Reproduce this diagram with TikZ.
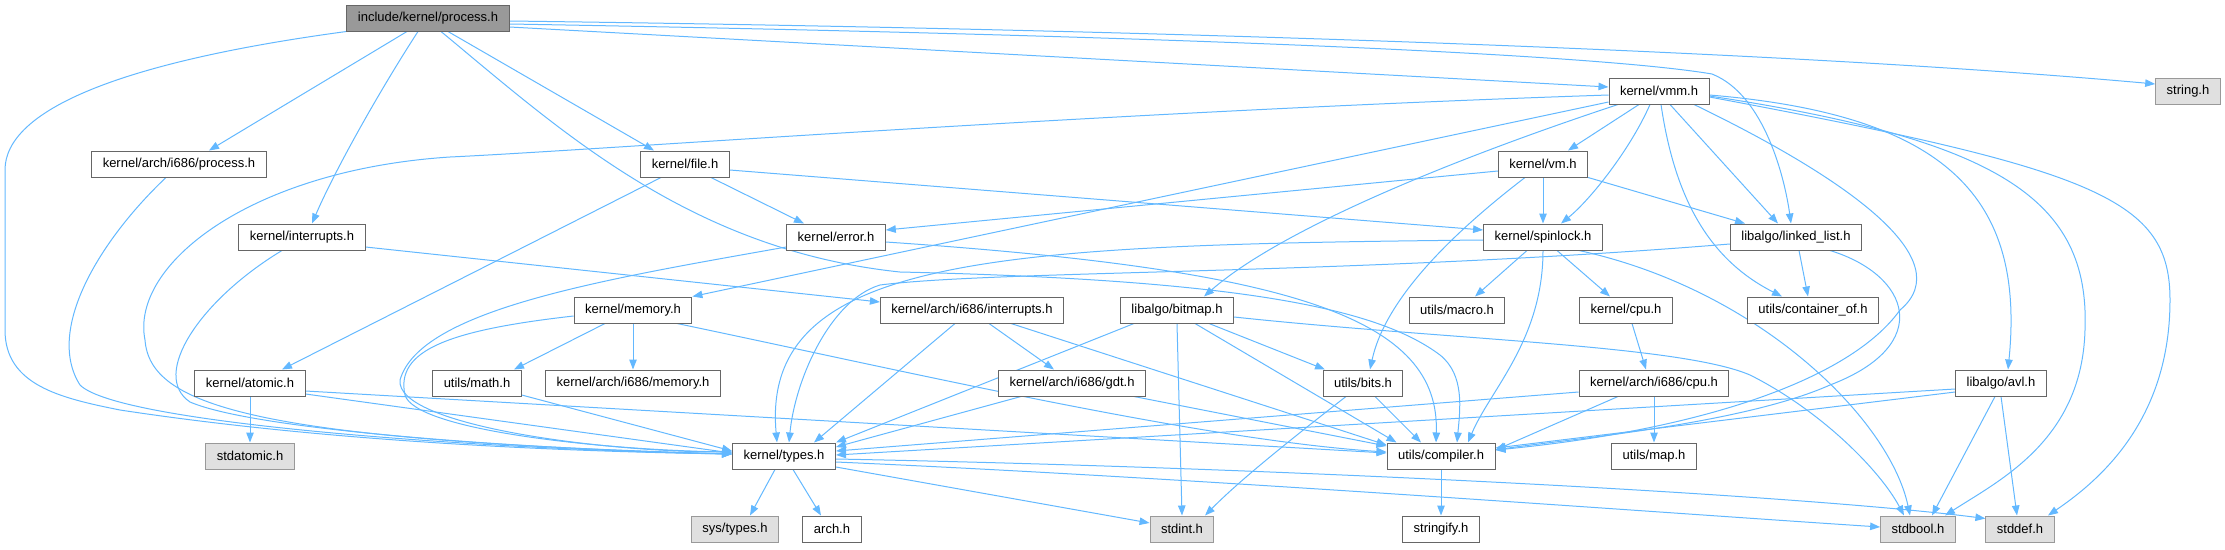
\documentclass[tikz,border=0pt]{standalone}
\usepackage{fontspec}
\setmainfont{Liberation Sans}
\usetikzlibrary{arrows.meta,backgrounds}
\definecolor{edgeblue}{HTML}{63B8FF}
\definecolor{boxline}{HTML}{666666}
\definecolor{sysline}{HTML}{999999}
\definecolor{sysfill}{HTML}{E0E0E0}
\definecolor{rootfill}{HTML}{999999}

\begin{document}
\begin{tikzpicture}[x=1pt, y=-1pt,
    hdr/.style={draw=boxline, fill=white, line width=1pt, minimum height=26pt,
      inner xsep=11pt, inner ysep=0pt, font=\fontsize{13}{15}\selectfont},
    syshdr/.style={hdr, draw=sysline, fill=sysfill},
    roothdr/.style={hdr, fill=rootfill},
    dep/.style={draw=edgeblue, line width=1pt, -{Triangle[length=10pt,width=7.5pt]}}]
  \useasboundingbox (0,0) rectangle (2225,549);
  % rows at 18, 91, 164, 237, 310, 383, 456, 529
  \node[roothdr] (proc) at (428,18) {include/kernel/process.h};
  \node[hdr] (vmm) at (1659,91) {kernel/vmm.h};
  \node[syshdr] (strh) at (2188,91) {string.h};
  \node[hdr] (aproc) at (179,164) {kernel/arch/i686/process.h};
  \node[hdr] (file) at (685,164) {kernel/file.h};
  \node[hdr] (vm) at (1543,164) {kernel/vm.h};
  \node[hdr] (intr) at (302,237) {kernel/interrupts.h};
  \node[hdr] (err) at (836,237) {kernel/error.h};
  \node[hdr] (spin) at (1543,237) {kernel/spinlock.h};
  \node[hdr] (llist) at (1796,237) {libalgo/linked\_list.h};
  \node[hdr] (mem) at (633,310) {kernel/memory.h};
  \node[hdr] (aintr) at (972,310) {kernel/arch/i686/interrupts.h};
  \node[hdr] (bmap) at (1177,310) {libalgo/bitmap.h};
  \node[hdr] (macro) at (1457,310) {utils/macro.h};
  \node[hdr] (cpu) at (1626,310) {kernel/cpu.h};
  \node[hdr] (contof) at (1813,310) {utils/container\_of.h};
  \node[hdr] (atom) at (250,383) {kernel/atomic.h};
  \node[hdr] (math) at (477,383) {utils/math.h};
  \node[hdr] (amem) at (633,383) {kernel/arch/i686/memory.h};
  \node[hdr] (gdt) at (1072,383) {kernel/arch/i686/gdt.h};
  \node[hdr] (bits) at (1363,383) {utils/bits.h};
  \node[hdr] (acpu) at (1654,383) {kernel/arch/i686/cpu.h};
  \node[hdr] (avl) at (2001,383) {libalgo/avl.h};
  \node[syshdr] (statom) at (250,456) {stdatomic.h};
  \node[hdr] (types) at (784,456) {kernel/types.h};
  \node[hdr] (comp) at (1441,456) {utils/compiler.h};
  \node[hdr] (map) at (1654,456) {utils/map.h};
  \node[syshdr] (systy) at (735,529) {sys/types.h};
  \node[hdr] (arch) at (832,529) {arch.h};
  \node[syshdr] (sint) at (1182,529) {stdint.h};
  \node[hdr] (strfy) at (1441,529) {stringify.h};
  \node[syshdr] (sbool) at (1918,529) {stdbool.h};
  \node[syshdr] (sdef) at (2020,529) {stddef.h};

  \begin{scope}[on background layer]
    % process.h
    \draw[dep] (proc.south west) .. controls (120,62) and (5,110) .. (5,170) -- (5,330)
      .. controls (5,385) and (60,398) .. (120,410) .. controls (350,445) and (600,452) .. ([yshift=2pt]types.west);
    \draw[dep] ([xshift=-21pt]proc.south) -- ([xshift=30pt]aproc.north);
    \draw[dep] ([xshift=-10pt]proc.south) .. controls (380,90) and (335,170) .. ([xshift=10pt]intr.north);
    \draw[dep] ([xshift=20pt]proc.south) -- ([xshift=-31pt]file.north);
    \draw[dep] ([xshift=13pt]proc.south) .. controls (560,130) and (690,250) .. (900,272)
      .. controls (1250,280) and (1380,310) .. (1440,355) .. controls (1465,375) and (1460,410) .. ([xshift=16pt]comp.north);
    \draw[dep] ([yshift=-9pt]proc.east) -- ([yshift=4pt]vmm.west);
    \draw[dep] ([yshift=-3pt]proc.east) .. controls (1200,30) and (1800,52) .. ([yshift=7pt]strh.west);
    \draw[dep] ([yshift=-6pt]proc.east) .. controls (1200,36) and (1600,55) .. (1712,74)
      .. controls (1765,95) and (1785,180) .. ([xshift=-5pt]llist.north);
    % arch/i686/process.h, interrupts.h
    \draw[dep] ([xshift=-13pt]aproc.south) .. controls (100,240) and (45,330) .. (80,385)
      .. controls (120,425) and (500,450) .. ([yshift=2pt]types.west);
    \draw[dep] ([xshift=-20pt]intr.south) .. controls (200,300) and (150,375) .. (190,402)
      .. controls (260,432) and (550,450) .. ([yshift=2pt]types.west);
    \draw[dep] ([yshift=-10pt]intr.east) -- ([yshift=8pt]aintr.west);
    % file.h
    \draw[dep] ([xshift=26pt]file.south) -- ([xshift=-32pt]err.north);
    \draw[dep] ([yshift=-6pt]file.east) -- ([yshift=7pt]spin.west);
    \draw[dep] ([xshift=-24pt]file.south) -- ([xshift=32pt]atom.north);
    % vmm.h
    \draw[dep] ([yshift=-4pt]vmm.west) .. controls (1100,112) and (600,150) .. (450,157)
      .. controls (250,170) and (130,265) .. (145,340) .. controls (150,405) and (250,440) .. ([yshift=2pt]types.west);
    \draw[dep] ([yshift=-11pt]vmm.west) -- (mem.north east);
    \draw[dep] ([xshift=-41pt]vmm.south) .. controls (1450,160) and (1280,230) .. ([xshift=27pt]bmap.north);
    \draw[dep] ([xshift=-20pt]vmm.south) -- ([xshift=25pt]vm.north);
    \draw[dep] ([xshift=-9pt]vmm.south) .. controls (1630,150) and (1590,200) .. ([xshift=18pt]spin.north);
    \draw[dep] ([xshift=11pt]vmm.south) -- ([xshift=-18pt]llist.north);
    \draw[dep] ([xshift=2pt]vmm.south) .. controls (1675,200) and (1710,260) .. ([xshift=-31pt]contof.north);
    \draw[dep] ([xshift=35pt]vmm.south) .. controls (1850,180) and (1960,260) .. (1900,310)
      .. controls (1850,380) and (1700,430) .. ([yshift=6pt]comp.east);
    \draw[dep] ([yshift=-4pt]vmm.east) .. controls (1950,115) and (2025,200) .. ([xshift=7pt]avl.north);
    \draw[dep] ([yshift=-5pt]vmm.east) .. controls (2000,140) and (2090,200) .. (2085,330)
      .. controls (2082,440) and (2000,480) .. ([xshift=27pt]sbool.north);
    \draw[dep] ([yshift=-6pt]vmm.east) .. controls (2100,170) and (2170,200) .. (2170,300)
      .. controls (2170,420) and (2100,480) .. ([xshift=28pt]sdef.north);
    % vm.h
    \draw[dep] ([yshift=-7pt]vm.west) -- ([yshift=7pt]err.east);
    \draw[dep] (vm) -- (spin);
    \draw[dep] ([xshift=-18pt]vm.south) .. controls (1450,235) and (1385,300) .. ([xshift=7pt]bits.north);
    \draw[dep] (vm.south east) -- ([xshift=-51pt]llist.north);
    % spinlock.h
    \draw[dep] ([yshift=-3pt]spin.west) .. controls (1000,245) and (760,255) .. ([xshift=-7pt]types.north);
    \draw[dep] ([xshift=-16pt]spin.south) -- ([xshift=18pt]macro.north);
    \draw[dep] (spin.south) .. controls (1543,340) and (1490,390) .. ([xshift=27pt]comp.north);
    \draw[dep] ([xshift=14pt]spin.south) -- ([xshift=-16pt]cpu.north);
    \draw[dep] ([xshift=36pt]spin.south) .. controls (1760,290) and (1890,420) .. ([xshift=-8pt]sbool.north);
    % linked_list.h
    \draw[dep] ([yshift=-7pt]llist.west) .. controls (1350,275) and (1000,270) .. (880,285)
      .. controls (830,300) and (795,380) .. ([xshift=5pt]types.north);
    \draw[dep] ([xshift=3pt]llist.south) -- ([xshift=-5pt]contof.north);
    \draw[dep] ([xshift=34pt]llist.south) .. controls (1910,275) and (1935,345) .. (1830,385)
      .. controls (1740,425) and (1560,440) .. ([yshift=6pt]comp.east);
    % error.h
    \draw[dep] ([yshift=-10pt]err.west) .. controls (600,280) and (420,310) .. (400,380)
      .. controls (395,425) and (600,452) .. ([yshift=4pt]types.west);
    \draw[dep] ([yshift=-5pt]err.east) .. controls (1300,270) and (1440,320) .. ([xshift=-5pt]comp.north);
    % memory.h
    \draw[dep] ([xshift=-28pt]mem.south) -- ([xshift=37pt]math.north);
    \draw[dep] (mem) -- (amem);
    \draw[dep] ([yshift=-6pt]mem.west) .. controls (450,330) and (395,350) .. (405,395)
      .. controls (415,430) and (600,450) .. ([yshift=4pt]types.west);
    \draw[dep] ([xshift=44pt]mem.south) .. controls (900,370) and (1200,440) .. ([yshift=4pt]comp.west);
    % arch/i686/interrupts.h
    \draw[dep] ([xshift=-17pt]aintr.south) -- ([xshift=30pt]types.north);
    \draw[dep] ([xshift=17pt]aintr.south) -- ([xshift=-18pt]gdt.north);
    \draw[dep] ([xshift=39pt]aintr.south) -- ([yshift=11pt]comp.west);
    % bitmap.h
    \draw[dep] ([xshift=-43pt]bmap.south) -- (types.north east);
    \draw[dep] (bmap.south) -- (sint.north);
    \draw[dep] ([xshift=18pt]bmap.south) -- ([xshift=10pt]comp.north west);
    \draw[dep] ([xshift=32pt]bmap.south) -- ([xshift=-38pt]bits.north);
    \draw[dep] ([yshift=-7pt]bmap.east) .. controls (1450,340) and (1680,345) .. (1750,375)
      .. controls (1820,410) and (1880,470) .. ([xshift=-14pt]sbool.north);
    % atomic.h, math.h, gdt.h, bits.h, cpu.h
    \draw[dep] (atom) -- (statom);
    \draw[dep] ([yshift=-11pt]atom.east) -- ([yshift=3pt]types.west);
    \draw[dep] ([yshift=-8pt]atom.east) -- ([yshift=3pt]comp.west);
    \draw[dep] ([yshift=-12pt]math.east) -- ([yshift=5pt]types.west);
    \draw[dep] ([xshift=-51pt]gdt.south) -- ([yshift=9pt]types.east);
    \draw[dep] ([xshift=62pt]gdt.south) -- ([yshift=10pt]comp.west);
    \draw[dep] ([xshift=12pt]bits.south) -- ([xshift=-20pt]comp.north);
    \draw[dep] ([xshift=-17pt]bits.south) .. controls (1290,440) and (1240,480) .. ([xshift=23pt]sint.north);
    \draw[dep] ([xshift=6pt]cpu.south) -- ([xshift=-8pt]acpu.north);
    % arch/i686/cpu.h
    \draw[dep] ([yshift=-9pt]acpu.west) -- ([yshift=5pt]types.east);
    \draw[dep] ([xshift=-36pt]acpu.south) -- ([yshift=6pt]comp.east);
    \draw[dep] (acpu) -- (map);
    % avl.h
    \draw[dep] ([yshift=-6pt]avl.west) -- ([yshift=1pt]types.east);
    \draw[dep] ([yshift=-9pt]avl.west) -- ([yshift=8pt]comp.east);
    \draw[dep] ([xshift=-6pt]avl.south) -- ([xshift=14pt]sbool.north);
    \draw[dep] (avl.south) -- ([xshift=-3pt]sdef.north);
    % types.h, compiler.h
    \draw[dep] ([xshift=-9pt]types.south) -- ([xshift=15pt]systy.north);
    \draw[dep] ([xshift=9pt]types.south) -- ([xshift=-11pt]arch.north);
    \draw[dep] ([yshift=-11pt]types.east) -- ([yshift=6pt]sint.west);
    \draw[dep] ([yshift=-6pt]types.east) .. controls (1200,478) and (1650,512) .. ([yshift=2pt]sbool.west);
    \draw[dep] ([yshift=-3pt]types.east) .. controls (1300,468) and (1800,495) .. ([yshift=-3pt]sdef.north west);
    \draw[dep] (comp) -- (strfy);
  \end{scope}
\end{tikzpicture}
\end{document}
